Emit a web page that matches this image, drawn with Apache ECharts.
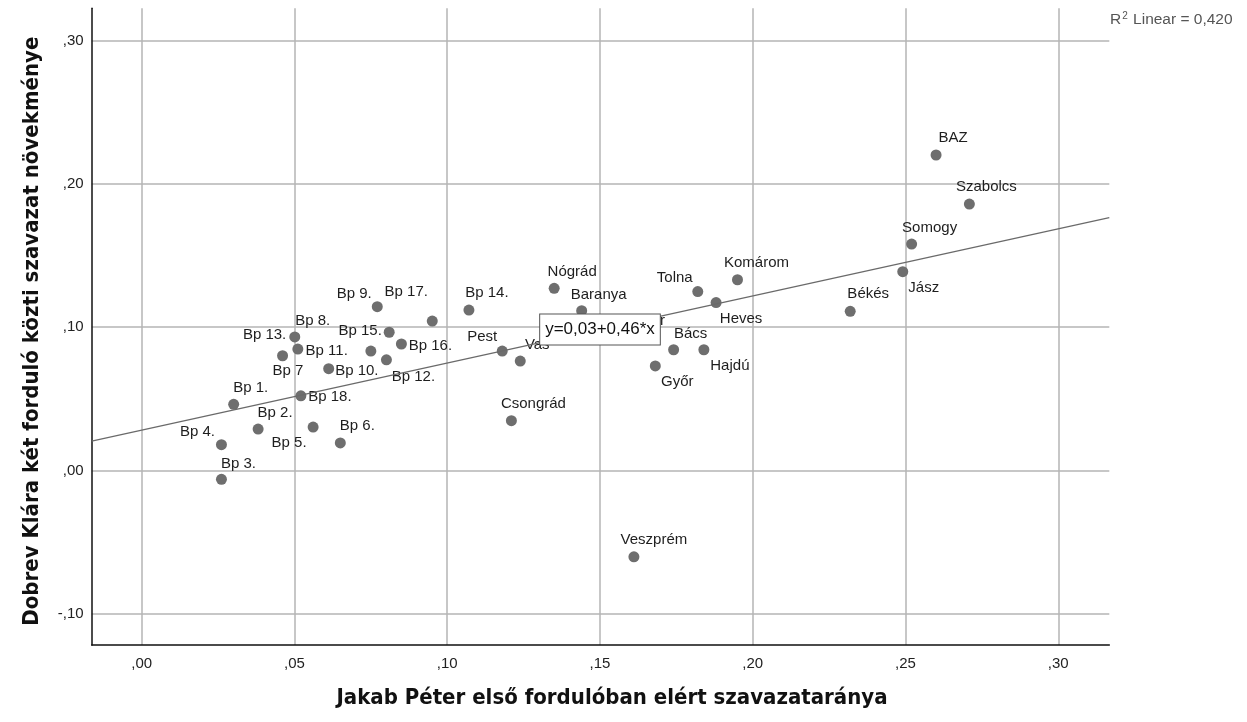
<!DOCTYPE html>
<html>
<head>
<meta charset="utf-8">
<script src="https://cdn.jsdelivr.net/npm/echarts@6/dist/echarts.min.js"></script>
<style>
html,body{margin:0;padding:0;background:#fff;}
#chart{width:1247px;height:722px;}
</style>
</head>
<body>
<div id="chart"></div>
<script>
// ---- data ----
const names = ['Bp 1.','Bp 2.','Bp 3.','Bp 4.','Bp 5.','Bp 6.','Bp 7','Bp 8.','Bp 9.','Bp 10.',
  'Bp 11.','Bp 12.','Bp 13.','Bp 14.','Bp 15.','Bp 16.','Bp 17.','Bp 18.',
  'Nógrád','Baranya','Tolna','Heves','Komárom','Pest','Vas','Csongrád','Bács','Hajdú','Győr','Fejér',
  'BAZ','Szabolcs','Somogy','Jász','Békés','Veszprém'];
const xValues = [0.0301,0.0381,0.0261,0.0261,0.0561,0.0650,0.0511,0.0501,0.0771,0.0750,
  0.0612,0.0801,0.0461,0.1071,0.0810,0.0850,0.0951,0.0521,
  0.1350,0.1440,0.1820,0.1880,0.1950,0.1180,0.1239,0.1210,0.1741,0.1840,0.1681,0.1601,
  0.2600,0.2709,0.2520,0.2491,0.2319,0.1611];
const yValues = [0.0462,0.0290,-0.0061,0.0181,0.0304,0.0193,0.0848,0.0932,0.1143,0.0834,
  0.0711,0.0773,0.0801,0.1120,0.0965,0.0883,0.1043,0.0522,
  0.1271,0.1115,0.1249,0.1172,0.1331,0.0834,0.0764,0.0348,0.0843,0.0843,0.0730,0.0946,
  0.2201,0.1859,0.1580,0.1387,0.1111,-0.0601];
// label placement relative to each point (pixels)
const labelDx = [17,17,17,-24,-24,17,-10,18,-23,-14,
  -2,27,-18,18,-29,29,-26,29,
  18,17,-23,25,19,-20,17,22,17,26,22,17,
  17,17,18,21,18,20];
const labelDy = [-17,-16,-16,-13,16,-17,22,-16,-13,20,
  -18,17,-21,-17,-1,2,-29,1,
  -17,-16,-14,16,-17,-14,-16,-17,-16,16,16,-14,
  -17,-17,-16,16,-17,-17];
// regression fit
const intercept = 0.0282;
const slope = 0.468;
const equationText = 'y=0,03+0,46*x';
const equationAtX = 0.15;
const r2Text = '0,420';
// axes
const xMin = -0.01637, xMax = 0.3167;
const yMin = -0.1216, yMax = 0.3224;
const xTitle = 'Jakab Péter első fordulóban elért szavazataránya';
const yTitle = 'Dobrev Klára két forduló közti szavazat növekménye';

const fmt = v => v.toFixed(2).replace('0.', ',');

const points = names.map((n, i) => ({
  name: n,
  value: [xValues[i], yValues[i]],
  label: { offset: [labelDx[i], labelDy[i]] }
}));

const chart = echarts.init(document.getElementById('chart'));
const titleFont = "'DejaVu Sans Condensed', 'Roboto', sans-serif";
const baseFont = "'Liberation Sans', Arial, sans-serif";
chart.setOption({
  animation: false,
  backgroundColor: '#fff',
  title: {
    left: 1110, top: 11, padding: 0,
    text: '{r|R}{s|2}{r| Linear = ' + r2Text + '}',
    textStyle: {
      fontWeight: 'normal',
      rich: {
        r: { fontFamily: baseFont, fontSize: 15.5, fontWeight: 'normal', color: '#555' },
        s: { fontFamily: baseFont, fontSize: 10, fontWeight: 'normal', color: '#555', padding: [0, 1, 8, 1] }
      }
    }
  },
  grid: { left: 91.7, right: 137.7, top: 8.3, bottom: 77, containLabel: false },
  xAxis: {
    type: 'value', min: xMin, max: xMax, splitNumber: 6, minInterval: 0.05, maxInterval: 0.05,
    name: xTitle, nameLocation: 'middle', nameGap: 42,
    nameTextStyle: { fontFamily: titleFont, fontWeight: 'bold', fontSize: 22, color: '#111', padding: [0, 0, 0, 23] },
    axisLine: { show: true, onZero: false, lineStyle: { color: '#111', width: 1.5 } },
    axisTick: { show: false },
    axisLabel: { formatter: fmt, showMinLabel: false, showMaxLabel: false, margin: 11,
      fontFamily: baseFont, fontSize: 15, color: '#222' },
    splitLine: { show: true, showMinLine: false, showMaxLine: false, lineStyle: { color: '#b4b4b4', width: 1.5 } }
  },
  yAxis: {
    type: 'value', min: yMin, max: yMax, splitNumber: 4, minInterval: 0.1, maxInterval: 0.1,
    name: yTitle, nameLocation: 'middle', nameGap: 48,
    nameTextStyle: { fontFamily: titleFont, fontWeight: 'bold', fontSize: 22, color: '#111', padding: [0, 9, 0, 0] },
    axisLine: { show: true, onZero: false, lineStyle: { color: '#111', width: 1.5 } },
    axisTick: { show: false },
    axisLabel: { formatter: fmt, showMinLabel: false, showMaxLabel: false, margin: 8,
      fontFamily: baseFont, fontSize: 15, color: '#222' },
    splitLine: { show: true, showMinLine: false, showMaxLine: false, lineStyle: { color: '#b4b4b4', width: 1.5 } }
  },
  series: [
    {
      type: 'scatter', z: 2,
      symbol: 'circle', symbolSize: 11,
      itemStyle: { color: '#6e6e6e', opacity: 1 },
      label: { show: true, position: 'inside', formatter: '{b}',
        fontFamily: baseFont, fontSize: 15, color: '#1e1e1e' },
      emphasis: { disabled: true },
      data: points
    },
    {
      type: 'line', z: 3,
      showSymbol: false, symbol: 'none',
      lineStyle: { color: '#6a6a6a', width: 1.3 },
      emphasis: { disabled: true },
      data: [[xMin, intercept + slope * xMin], [xMax, intercept + slope * xMax]],
      markPoint: {
        symbol: 'rect', symbolSize: 1,
        itemStyle: { color: 'rgba(0,0,0,0)' },
        label: { show: true, position: 'inside', formatter: equationText,
          fontFamily: baseFont, fontSize: 17, color: '#111',
          backgroundColor: '#fff', borderColor: '#555', borderWidth: 1, padding: [7, 5, 6, 5] },
        data: [{ coord: [equationAtX, intercept + slope * equationAtX] }]
      }
    }
  ]
});
</script>
</body>
</html>
